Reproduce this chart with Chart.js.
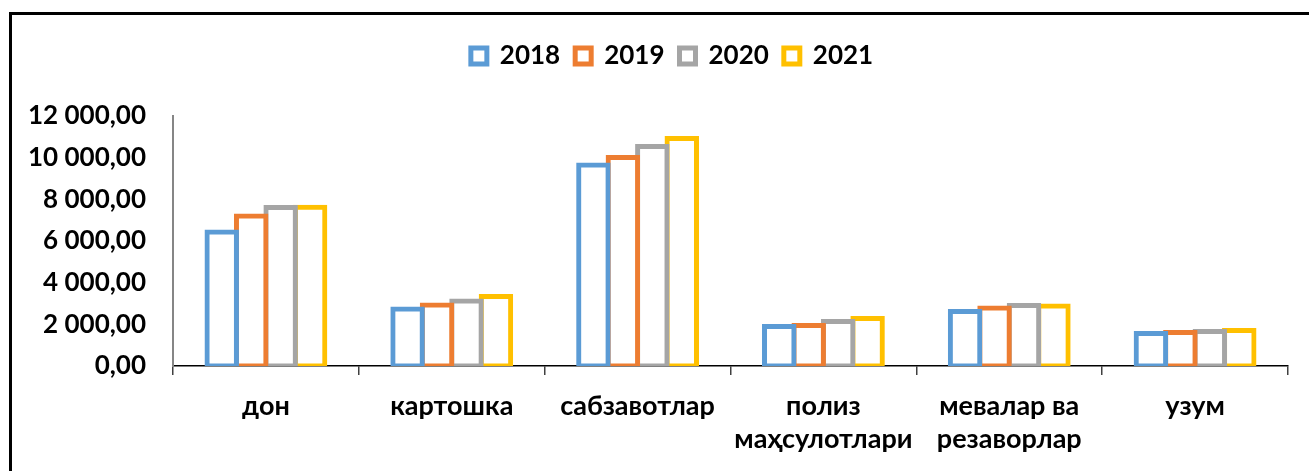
<!DOCTYPE html>
<html>
<head>
<meta charset="utf-8">
<script src="https://cdn.jsdelivr.net/npm/chart.js@4.4.1/dist/chart.umd.min.js"></script>
<style>
    html, body { margin: 0; padding: 0; background: #fff; overflow: hidden; }
    #frame { position: absolute; left: 9px; top: 12px; width: 1400px; height: 500px; border-left: 3px solid #000; border-top: 3px solid #000; }
    #wrap { position: absolute; left: 0; top: 0; width: 1309px; height: 471px; }
</style>
</head>
<body>
<div id="frame"></div>
<div id="wrap"><canvas id="chart"></canvas></div>
<script>
const categories = ["дон", "картошка", "сабзавотлар", ["полиз", "маҳсулотлари"], ["мевалар ва", "резаворлар"], "узум"];
const years = ["2018", "2019", "2020", "2021"];
const values2018 = [6430, 2740, 9650, 1900, 2620, 1560];
const values2019 = [7200, 2930, 10010, 1950, 2790, 1610];
const values2020 = [7610, 3120, 10540, 2140, 2900, 1660];
const values2021 = [7620, 3340, 10920, 2280, 2880, 1700];
const yTicks = [0, 2000, 4000, 6000, 8000, 10000, 12000];

const colors = ["#5B9BD5", "#ED7D31", "#A5A5A5", "#FFC000"];
const series = [values2018, values2019, values2020, values2021];
const FONT = "Lato, 'Open Sans', sans-serif";

// 12000 -> "12 000,00"
function fmt(v) {
    return Math.round(v).toString().replace(/\B(?=(\d{3})+(?!\d))/g, " ") + ",00";
}

// legend sits a bit right of the canvas centre in the original
const legendShift = {
    id: "legendShift",
    afterLayout(chart) {
        chart.legend.left += 23;
        chart.legend.right += 23;
    }
};

const datasets = years.map((y, i) => ({
    label: y,
    data: series[i],
    backgroundColor: "#ffffff",
    borderColor: colors[i],
    borderWidth: 5,
    borderSkipped: false,
    inflateAmount: 2.5,
    barPercentage: 1,
    categoryPercentage: 0.634
}));

new Chart(document.getElementById("chart"), {
    type: "bar",
    data: { labels: categories, datasets },
    plugins: [legendShift],
    options: {
        responsive: true,
        maintainAspectRatio: false,
        animation: false,
        layout: { padding: { left: 10, right: 21, top: 28, bottom: 0 } },
        plugins: {
            tooltip: { enabled: false },
            legend: {
                position: "top",
                labels: {
                    color: "#000",
                    font: { family: FONT, size: 26, weight: "bold" },
                    boxWidth: 16,
                    boxHeight: 16,
                    padding: 15
                }
            }
        },
        scales: {
            x: {
                afterFit(scale) { scale.height = 105; },
                grid: { display: true, drawOnChartArea: false, offset: true, color: "#404040", lineWidth: 1.5, tickLength: 9 },
                border: { display: true, color: "#000", width: 1.5 },
                ticks: {
                    color: "#000",
                    padding: 14,
                    maxRotation: 0,
                    autoSkip: false,
                    font: { family: FONT, size: 27, weight: "bold", lineHeight: 1.25 }
                }
            },
            // empty spacer between legend and plot
            gap: {
                position: "top",
                afterFit(scale) { scale.height = 37; },
                grid: { display: false },
                border: { display: false },
                ticks: { display: false }
            },
            y: {
                min: 0,
                max: 12000,
                afterFit(scale) { scale.width = 163; },
                afterBuildTicks(scale) { scale.ticks = yTicks.map(v => ({ value: v })); },
                grid: { display: false, drawTicks: false },
                border: { display: true, color: "#868686", width: 2 },
                ticks: {
                    color: "#000",
                    padding: 27,
                    font: { family: FONT, size: 26, weight: "bold" },
                    callback: v => fmt(v)
                }
            }
        }
    }
});
</script>
</body>
</html>
